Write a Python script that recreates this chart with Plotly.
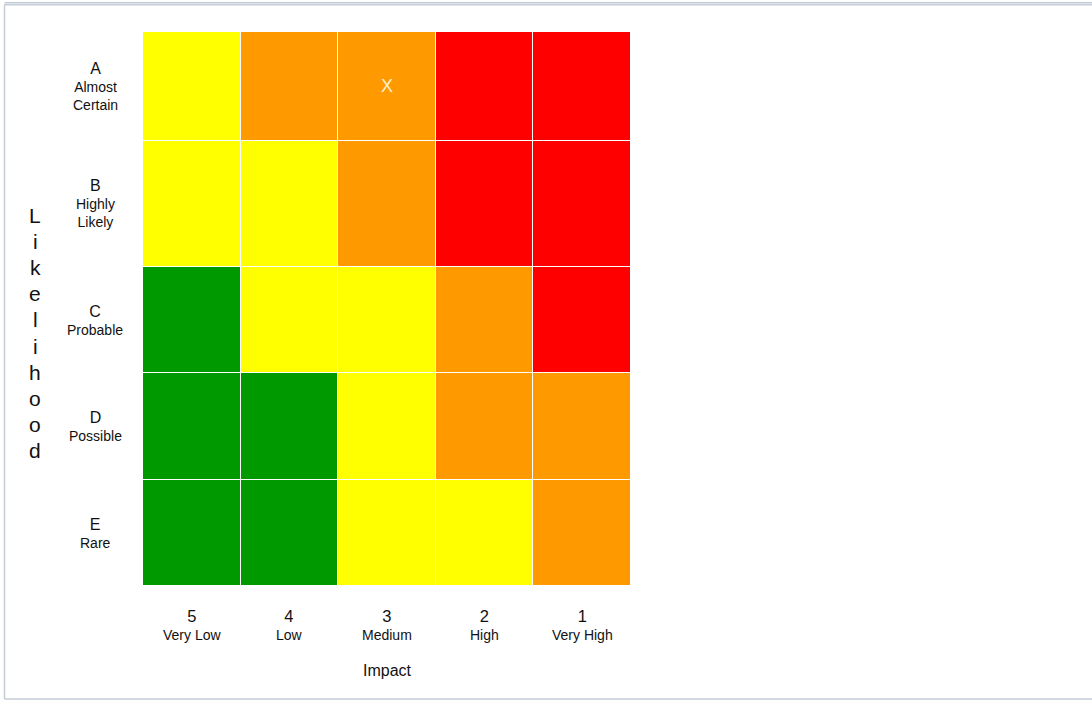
import plotly.graph_objects as go

# ---------------- data ----------------
likelihood_codes = ["A", "B", "C", "D", "E"]
likelihood_names = ["Almost<br>Certain", "Highly<br>Likely", "Probable", "Possible", "Rare"]
impact_codes = ["5", "4", "3", "2", "1"]
impact_names = ["Very Low", "Low", "Medium", "High", "Very High"]
# risk level per cell: 0 green, 1 yellow, 2 orange, 3 red (rows A..E, cols 5..1)
risk_A = [1, 2, 2, 3, 3]
risk_B = [1, 1, 2, 3, 3]
risk_C = [0, 1, 1, 2, 3]
risk_D = [0, 0, 1, 2, 2]
risk_E = [0, 0, 1, 1, 2]
marker_row = "A"
marker_col = "3"
marker_text = "X"
axis_y_title = "Likelihood"
axis_x_title = "Impact"

# ---------------- layout helpers ----------------
row_heights = [109, 126, 106.6, 106.7, 106]  # A..E (display heights)
level_colors = ["#009900", "#FFFF00", "#FF9900", "#FF0000"]

W, H = 1092, 702
L, R, T, B = 143, 461, 31.7, 116
PW = W - L - R
PH = H - T - B


def xp(px):
    return (px - L) / PW


def yp(py):
    return (H - B - py) / PH


# y bin edges from bottom (E) to top (A)
heights_bottom_up = row_heights[::-1]
edges = [0.0]
for h in heights_bottom_up:
    edges.append(edges[-1] + h)
centers_bottom_up = [(edges[i] + edges[i + 1]) / 2 for i in range(len(heights_bottom_up))]
center_of = dict(zip(likelihood_codes[::-1], centers_bottom_up))

rows_top_down = [risk_A, risk_B, risk_C, risk_D, risk_E]
z = rows_top_down[::-1]

n = len(level_colors)
colorscale = []
for i, c in enumerate(level_colors):
    colorscale.append([i / n, c])
    colorscale.append([(i + 1) / n, c])

xs = list(range(len(impact_codes)))

fig = go.Figure(
    go.Heatmap(
        z=z,
        x=xs,
        y=edges,
        colorscale=colorscale,
        zmin=-0.5,
        zmax=n - 0.5,
        showscale=False,
        xgap=1,
        ygap=1,
        hoverinfo="skip",
    )
)

font_family = "Liberation Sans, Arial, sans-serif"
text_color = "#111111"
annotations = []

# y labels
for code, name in zip(likelihood_codes, likelihood_names):
    annotations.append(dict(
        x=xp(95), xref="paper", y=center_of[code], yref="y",
        text=f"<span style='font-size:16px'>{code}</span><br>{name}",
        showarrow=False, xanchor="center", yanchor="middle", align="center",
        font=dict(family=font_family, size=14, color=text_color),
    ))

# x labels
for i, (code, name) in enumerate(zip(impact_codes, impact_names)):
    annotations.append(dict(
        x=xs[i], xref="x", y=yp(605), yref="paper",
        text=f"<span style='font-size:16.5px'>{code}</span><br>{name}",
        showarrow=False, xanchor="center", yanchor="top", align="center",
        font=dict(family=font_family, size=14, color=text_color),
    ))

# x axis title
annotations.append(dict(
    x=0.5, xref="paper", y=yp(671), yref="paper", text=axis_x_title,
    showarrow=False, xanchor="center", yanchor="middle",
    font=dict(family=font_family, size=16, color=text_color),
))

# y axis title, stacked letters
for i, ch in enumerate(axis_y_title):
    annotations.append(dict(
        x=xp(35), xref="paper", y=yp(215 + 26.2 * i), yref="paper", text=ch,
        showarrow=False, xanchor="center", yanchor="middle",
        font=dict(family=font_family, size=21, color=text_color),
    ))

# marker in cell
annotations.append(dict(
    x=xs[impact_codes.index(marker_col)], xref="x", y=center_of[marker_row], yref="y",
    text=marker_text, showarrow=False, xanchor="center", yanchor="middle",
    font=dict(family=font_family, size=18, color="#FFF0D0"),
))

frame_color = "#C5CCD6"
shapes = [
    dict(type="line", xref="paper", yref="paper",
         x0=xp(4.5), x1=xp(1092), y0=yp(4.5), y1=yp(4.5),
         line=dict(color=frame_color, width=1.5)),
    dict(type="line", xref="paper", yref="paper",
         x0=xp(4.5), x1=xp(1092), y0=yp(2.5), y1=yp(2.5),
         line=dict(color="#9FB0C2", width=1)),
    dict(type="line", xref="paper", yref="paper",
         x0=xp(4.5), x1=xp(4.5), y0=yp(4.5), y1=yp(699),
         line=dict(color=frame_color, width=1.5)),
    dict(type="line", xref="paper", yref="paper",
         x0=xp(4.5), x1=xp(1092), y0=yp(699), y1=yp(699),
         line=dict(color=frame_color, width=1.5)),
]

fig.update_layout(
    width=W, height=H,
    margin=dict(l=L, r=R, t=T, b=B, pad=0),
    paper_bgcolor="white", plot_bgcolor="white",
    xaxis=dict(range=[-0.5, len(xs) - 0.5], showticklabels=False, showgrid=False,
               zeroline=False, ticks="", fixedrange=True),
    yaxis=dict(range=[edges[0], edges[-1]], showticklabels=False, showgrid=False,
               zeroline=False, ticks="", fixedrange=True),
    annotations=annotations,
    shapes=shapes,
    showlegend=False,
)

fig.write_html(
    "out.html",
    config={"displayModeBar": False},
    post_script="document.body.style.margin='0';document.body.style.overflow='hidden';",
)
